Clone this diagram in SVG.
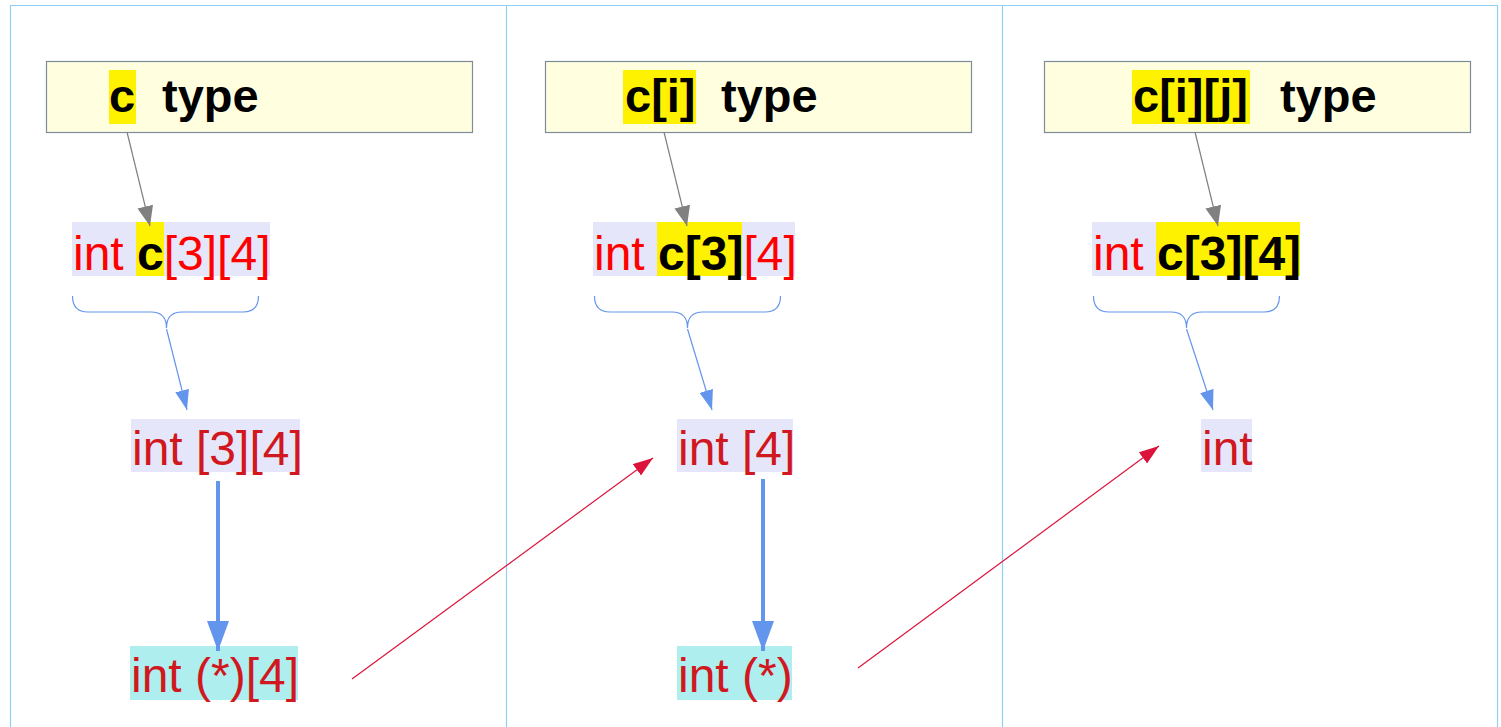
<svg xmlns="http://www.w3.org/2000/svg" width="1501" height="727" viewBox="0 0 1501 727">
<style>
.frame{fill:none;stroke:#8fd0f5;stroke-width:1.2}
.hdr{fill:#ffffe0;stroke:#7f8a9a;stroke-width:1.2}
.lav{fill:#e6e6fa}
.cy{fill:#afeeee}
.yel{fill:#fff200}
.t{font-family:"Liberation Sans",Arial,sans-serif;font-size:48px}
.h{font-size:47px}
.b{font-weight:bold;fill:#000}
.r1{fill:#ff0000}
.r2{fill:#d0181e}
.brace{fill:none;stroke:#6495ed;stroke-width:1.2}
.thin{stroke:#6495ed;stroke-width:1.2;fill:none}
.thick{stroke:#6495ed;stroke-width:4;fill:none}
.gray{stroke:#808080;stroke-width:1.2;fill:none}
.red{stroke:#dc143c;stroke-width:1.2;fill:none}
</style>
<defs>
<marker id="mb" markerWidth="20" markerHeight="14" refX="20" refY="7" orient="auto" markerUnits="userSpaceOnUse"><path d="M0,0 L20,7 L0,14 Z" fill="#6495ed"/></marker>
<marker id="mbt" markerWidth="30" markerHeight="22" refX="30" refY="11" orient="auto" markerUnits="userSpaceOnUse"><path d="M0,0 L30,11 L0,22 Z" fill="#6495ed"/></marker>
<marker id="mg" markerWidth="20" markerHeight="16" refX="20" refY="8" orient="auto" markerUnits="userSpaceOnUse"><path d="M0,0 L20,8 L0,16 Z" fill="#808080"/></marker>
<marker id="mr" markerWidth="20" markerHeight="14" refX="20" refY="7" orient="auto" markerUnits="userSpaceOnUse"><path d="M0,0 L20,7 L0,14 Z" fill="#dc143c"/></marker>
</defs>
<rect width="1501" height="727" fill="#fff"/>
<g id="frame">
<path class="frame" d="M10.5,727 L10.5,5.5 L1497.5,5.5 L1497.5,727"/>
<line class="frame" x1="506.5" y1="5.5" x2="506.5" y2="727"/>
<line class="frame" x1="1002.5" y1="5.5" x2="1002.5" y2="727"/>
</g>
<g id="hdr1">
<rect class="hdr" x="46.5" y="61.5" width="426" height="71"/>
<rect class="yel" x="109" y="70" width="27" height="54"/>
<text class="t h b" x="109" y="112">c<tspan x="162">type</tspan></text>
</g>
<g id="hdr2">
<rect class="hdr" x="545.5" y="61.5" width="426" height="71"/>
<rect class="yel" x="623" y="70" width="73" height="54"/>
<text class="t h b" x="625" y="112">c[i]<tspan x="721">type</tspan></text>
</g>
<g id="hdr3">
<rect class="hdr" x="1044.5" y="61.5" width="426" height="71"/>
<rect class="yel" x="1132" y="70" width="118" height="54"/>
<text class="t h b" x="1133" y="112">c[i][j]<tspan x="1280">type</tspan></text>
</g>
<g id="decl1">
<rect class="lav" x="72" y="222" width="198" height="54"/>
<rect class="yel" x="136" y="222" width="28" height="54"/>
<text class="t r1" x="73" y="270">int <tspan class="b">c</tspan>[3][4]</text>
</g>
<g id="decl2">
<rect class="lav" x="593" y="222" width="202" height="54"/>
<rect class="yel" x="657" y="222" width="85" height="54"/>
<text class="t r1" x="594" y="270">int <tspan class="b">c[3]</tspan>[4]</text>
</g>
<g id="decl3">
<rect class="lav" x="1092" y="222" width="208" height="54"/>
<rect class="yel" x="1156" y="222" width="144" height="54"/>
<text class="t r1" x="1093" y="270">int <tspan class="b">c[3][4]</tspan></text>
</g>
<g id="arr1">
<rect class="lav" x="131" y="419" width="169" height="53"/>
<text class="t r2" x="132" y="465">int [3][4]</text>
</g>
<g id="arr2">
<rect class="lav" x="677" y="419" width="116" height="53"/>
<text class="t r2" x="678" y="465">int [4]</text>
</g>
<g id="arr3">
<rect class="lav" x="1201" y="419" width="51" height="53"/>
<text class="t r2" x="1202" y="465">int</text>
</g>
<g id="ptr1">
<rect class="cy" x="130" y="646" width="168" height="54"/>
<text class="t r2" x="131" y="692">int (*)[4]</text>
</g>
<g id="ptr2">
<rect class="cy" x="677" y="646" width="115" height="54"/>
<text class="t r2" x="678" y="692">int (*)</text>
</g>
<g id="connectors">
<path class="brace" d="M72.5,296 Q72.5,312 88,312 L151,312 Q166.5,312 166.5,328 Q166.5,312 182,312 L243,312 Q258.5,312 258.5,296"/>
<path class="brace" d="M594.5,296 Q594.5,312 610,312 L672,312 Q687.5,312 687.5,328 Q687.5,312 703,312 L765,312 Q780.5,312 780.5,296"/>
<path class="brace" d="M1093.5,296 Q1093.5,312 1109,312 L1171,312 Q1186.5,312 1186.5,328 Q1186.5,312 1202,312 L1264,312 Q1279.5,312 1279.5,296"/>
<line class="thin" x1="166.5" y1="329" x2="187" y2="410" marker-end="url(#mb)"/>
<line class="thin" x1="687.5" y1="329" x2="712" y2="410" marker-end="url(#mb)"/>
<line class="thin" x1="1186.5" y1="329" x2="1213" y2="410" marker-end="url(#mb)"/>
<line class="thick" x1="218" y1="481" x2="218" y2="651" marker-end="url(#mbt)"/>
<line class="thick" x1="763" y1="479" x2="763" y2="651" marker-end="url(#mbt)"/>
<line class="gray" x1="127" y1="132" x2="150" y2="226" marker-end="url(#mg)"/>
<line class="gray" x1="664" y1="132" x2="687" y2="226" marker-end="url(#mg)"/>
<line class="gray" x1="1195" y1="132" x2="1218" y2="226" marker-end="url(#mg)"/>
<line class="red" x1="352" y1="679" x2="653" y2="458" marker-end="url(#mr)"/>
<line class="red" x1="858" y1="668" x2="1159" y2="446" marker-end="url(#mr)"/>
</g>
</svg>
